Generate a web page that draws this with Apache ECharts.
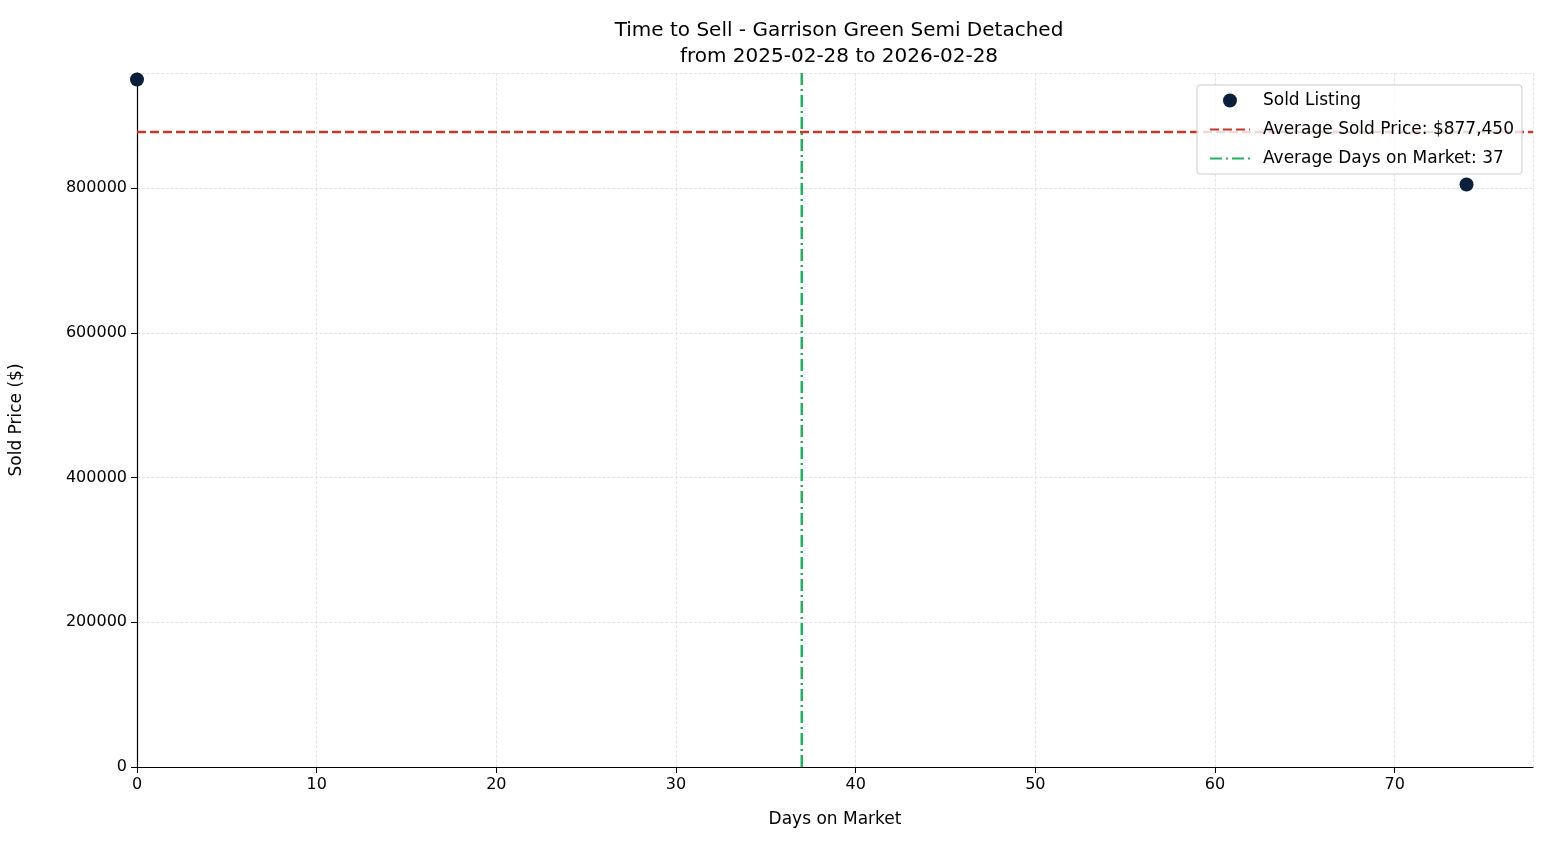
<!DOCTYPE html>
<html lang="en">
<head>
<meta charset="UTF-8">
<script src="https://cdn.jsdelivr.net/npm/echarts@6/dist/echarts.min.js"></script>
<title>Time to Sell</title>
<style>body{margin:0;background:#fff}</style>
</head>
<body>
<div id="main" style="width:1547px;height:845px;"></div>
<script type="text/javascript">
// data
var soldDays = [0, 74];
var soldPrices = [950000, 804900];
var avgPrice = 877450;
var avgDays = 37;
var xMax = 77.7;
var yMax = 958900;

var F = 'DejaVu Sans';
var myChart = echarts.init(document.getElementById('main'));
var hideSym = {opacity: 0, borderWidth: 0};

var option = {
    animation: false,
    textStyle: {fontFamily: F},
    title: {
        text: 'Time to Sell - Garrison Green Semi Detached\nfrom 2025-02-28 to 2026-02-28',
        left: 834, top: 13, textAlign: 'center',
        textStyle: {fontFamily: F, fontSize: 20, fontWeight: 'normal', color: '#000', lineHeight: 26}
    },
    legend: {
        right: 25, top: 85, orient: 'vertical',
        backgroundColor: 'rgba(255,255,255,0.8)',
        borderColor: '#ccc', borderWidth: 1, borderRadius: 3,
        padding: [7, 8, 7, 12], itemGap: 12, itemWidth: 40, itemHeight: 14,
        textStyle: {fontFamily: F, fontSize: 17, color: '#000', padding: [0, 0, 0, 8]},
        data: [
            {name: 'Sold Listing', icon: 'circle', itemStyle: {color: '#0b1f3a'}},
            {name: 'Average Sold Price: $877,450', itemStyle: hideSym},
            {name: 'Average Days on Market: 37', itemStyle: hideSym}
        ]
    },
    grid: {left: 137, right: 14, top: 73, bottom: 78},
    xAxis: {
        type: 'value', min: 0, max: xMax, interval: 10,
        name: 'Days on Market', nameLocation: 'middle', nameGap: 44,
        nameTextStyle: {fontFamily: F, fontSize: 17, color: '#000'},
        axisLine: {show: true, lineStyle: {color: '#000', width: 1.2}},
        axisTick: {show: true, length: 6, lineStyle: {color: '#000'}},
        axisLabel: {fontFamily: F, fontSize: 16, color: '#000', margin: 10, showMaxLabel: false,
            formatter: function (v) { return v % 10 === 0 ? v : ''; }},
        splitLine: {show: true, lineStyle: {color: '#ddd', type: 'dashed', width: 0.8}}
    },
    yAxis: {
        type: 'value', min: 0, max: yMax, interval: 200000,
        name: 'Sold Price ($)', nameLocation: 'middle', nameGap: 112,
        nameTextStyle: {fontFamily: F, fontSize: 17, color: '#000'},
        axisLine: {show: true, lineStyle: {color: '#000', width: 1.2}},
        axisTick: {show: true, length: 6, lineStyle: {color: '#000'}},
        axisLabel: {fontFamily: F, fontSize: 16, color: '#000', margin: 10, showMaxLabel: false,
            formatter: function (v) { return v % 200000 === 0 ? v : ''; }},
        splitLine: {show: true, lineStyle: {color: '#ddd', type: 'dashed', width: 0.8}}
    },
    series: [
        {
            name: 'Sold Listing', type: 'scatter', symbolSize: 14, z: 5,
            itemStyle: {color: '#0b1f3a', opacity: 1},
            data: soldDays.map(function (d, i) { return [d, soldPrices[i]]; })
        },
        {
            name: 'Average Sold Price: $877,450', type: 'line', symbol: 'none',
            itemStyle: {color: '#c0392b'},
            lineStyle: {color: '#c0392b', width: 2.5, type: [9, 4]},
            data: [[0, avgPrice], [xMax, avgPrice]]
        },
        {
            name: 'Average Days on Market: 37', type: 'line', symbol: 'none',
            itemStyle: {color: '#27ae60'},
            lineStyle: {color: '#27ae60', width: 2.5, type: [12, 4, 2, 4]},
            data: [[avgDays, 0], [avgDays, yMax]]
        }
    ]
};
myChart.setOption(option);
</script>
</body>
</html>
